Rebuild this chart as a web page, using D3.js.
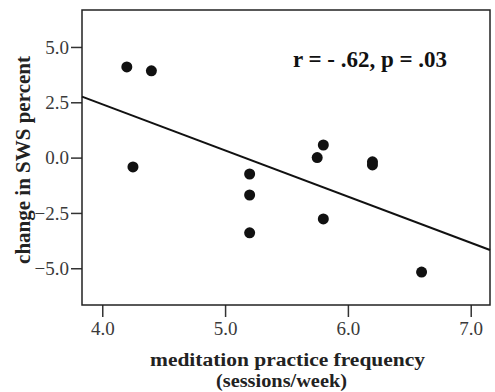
<!DOCTYPE html>
<html>
<head>
<meta charset="utf-8">
<title>scatter</title>
<script src="https://cdn.jsdelivr.net/npm/d3@7/dist/d3.min.js"></script>
<style>
  body { margin: 0; background: #fff; }
  text { font-family: "Liberation Serif", "Times New Roman", serif; }
</style>
</head>
<body>
<script>
var frequency = [4.2, 4.4, 4.25, 5.2, 5.2, 5.2, 5.75, 5.8, 5.8, 6.2, 6.2, 6.6];
var swsChange = [4.1, 3.92, -0.42, -0.74, -1.69, -3.4, 0.0, 0.57, -2.77, -0.19, -0.33, -5.17];
var xTicks = [4, 5, 6, 7];
var yTicks = [-5, -2.5, 0, 2.5, 5];

var width = 495, height = 392;
var mLeft = 82, mRight = 490, mTop = 10, mBottom = 305;

var svg = d3.select("body").append("svg")
    .attr("width", width)
    .attr("height", height);

var x = d3.scaleLinear().domain([3.835, 7.157]).range([mLeft, mRight]);
var y = d3.scaleLinear().domain([-6.66, 6.67]).range([mBottom, mTop]);

// least squares fit
var mx = d3.mean(frequency), my = d3.mean(swsChange);
var sxy = d3.sum(frequency, function(d, i) { return (d - mx) * (swsChange[i] - my); });
var sxx = d3.sum(frequency, function(d) { return (d - mx) * (d - mx); });
var slope = sxy / sxx, icept = my - slope * mx;

var xAxis = d3.axisBottom(x).tickValues(xTicks).tickFormat(d3.format(".1f"))
    .tickSizeInner(12).tickSizeOuter(0).tickPadding(5);
var yAxis = d3.axisLeft(y).tickValues(yTicks).tickFormat(d3.format(".1f"))
    .tickSizeInner(11).tickSizeOuter(0).tickPadding(2);

svg.append("g").attr("class", "x-axis")
    .attr("transform", "translate(0," + mBottom + ")")
    .call(xAxis);
svg.append("g").attr("class", "y-axis")
    .attr("transform", "translate(" + mLeft + ",0)")
    .call(yAxis);

svg.selectAll(".domain").remove();
svg.selectAll(".tick line").attr("stroke", "#333").attr("stroke-width", 1.5);
svg.selectAll(".tick text").attr("fill", "#3a3a3a").style("font-size", "19px")
    .style("font-family", "Liberation Serif, serif");

// frame
svg.append("rect")
    .attr("x", mLeft).attr("y", mTop)
    .attr("width", mRight - mLeft).attr("height", mBottom - mTop)
    .attr("fill", "none").attr("stroke", "#222").attr("stroke-width", 1.5);

// fit line
var x0 = x.domain()[0], x1 = x.domain()[1];
svg.append("line")
    .attr("x1", x(x0)).attr("y1", y(icept + slope * x0))
    .attr("x2", x(x1)).attr("y2", y(icept + slope * x1))
    .attr("stroke", "#111").attr("stroke-width", 2);

svg.selectAll("circle.pt")
    .data(frequency)
    .enter().append("circle")
    .attr("class", "pt")
    .attr("cx", function(d) { return x(d); })
    .attr("cy", function(d, i) { return y(swsChange[i]); })
    .attr("r", 5.5)
    .attr("fill", "#111");

svg.append("text")
    .attr("x", 370).attr("y", 67)
    .attr("text-anchor", "middle")
    .style("font-size", "23px").style("font-weight", "bold")
    .attr("fill", "#111")
    .text("r = - .62, p = .03");

// x axis title, two lines
svg.append("text")
    .attr("x", 150).attr("y", 366)
    .attr("textLength", 275).attr("lengthAdjust", "spacingAndGlyphs")
    .style("font-size", "18.5px").style("font-weight", "bold")
    .attr("fill", "#222")
    .text("meditation practice frequency");
svg.append("text")
    .attr("x", 216).attr("y", 387)
    .attr("textLength", 131).attr("lengthAdjust", "spacingAndGlyphs")
    .style("font-size", "18.5px").style("font-weight", "bold")
    .attr("fill", "#222")
    .text("(sessions/week)");

svg.append("text")
    .attr("transform", "translate(30,160) rotate(-90)")
    .attr("text-anchor", "middle")
    .style("font-size", "21px").style("font-weight", "bold")
    .attr("fill", "#222")
    .text("change in SWS percent");
</script>
</body>
</html>
